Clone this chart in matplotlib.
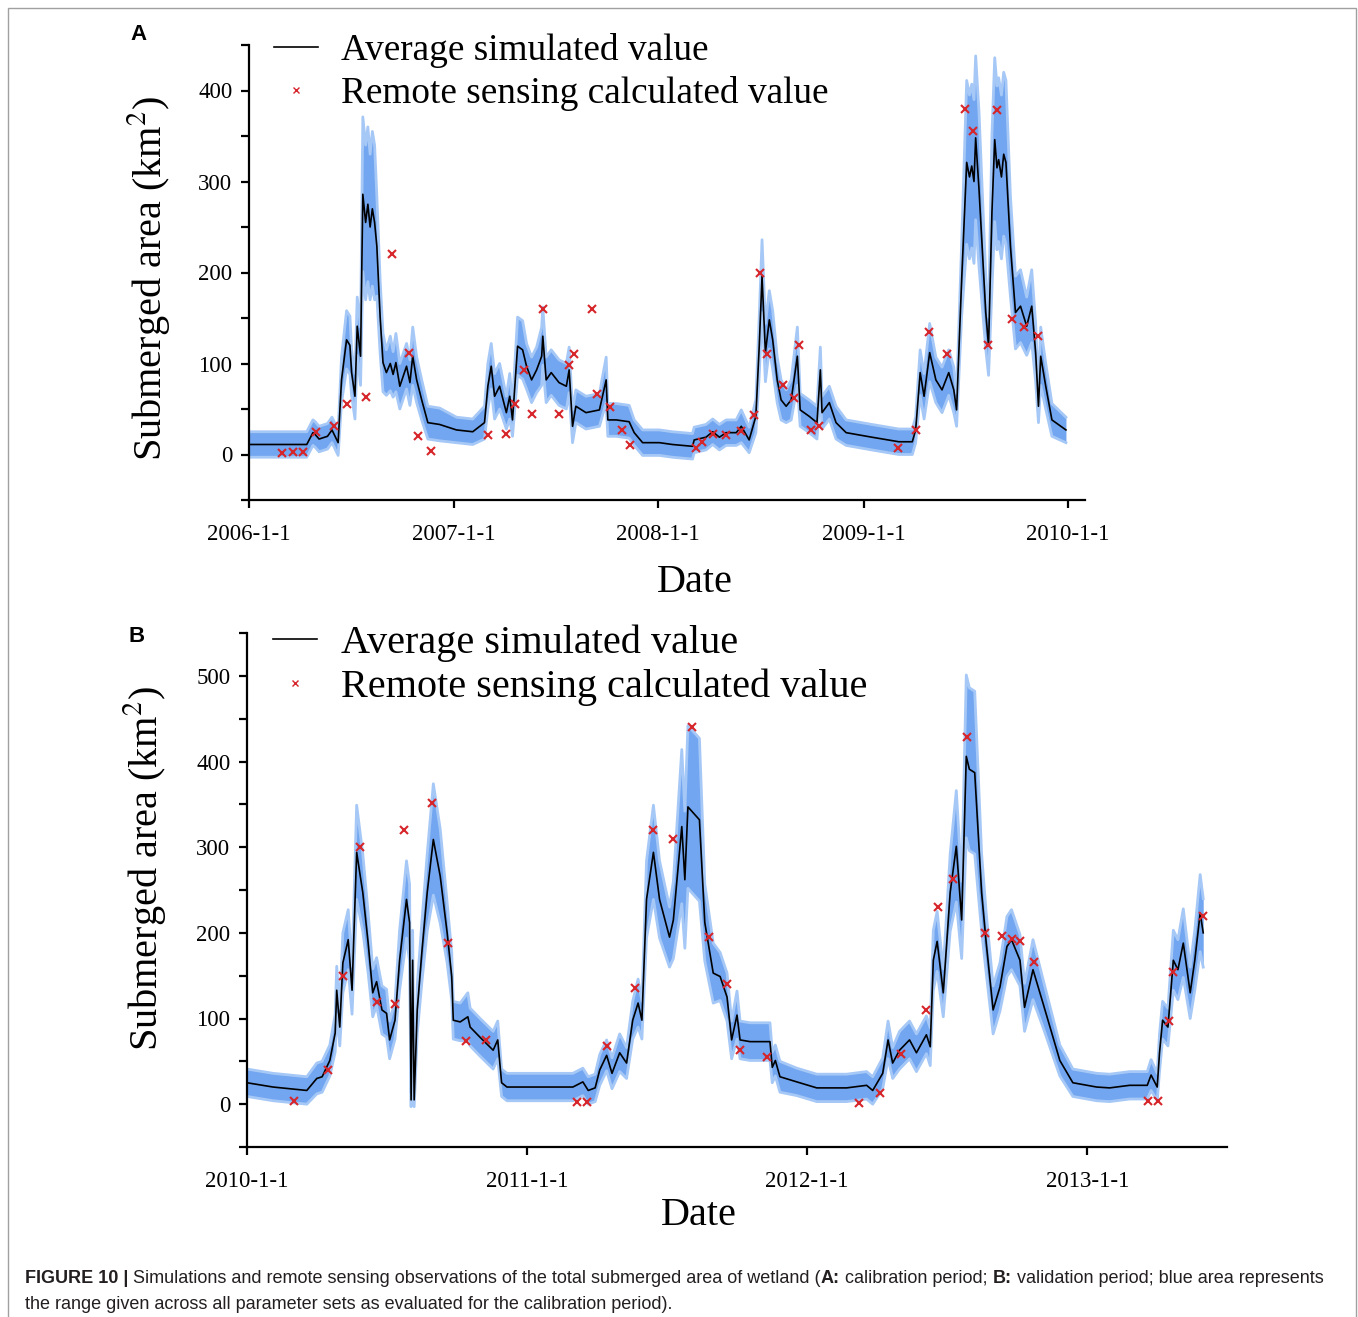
import pandas as pd
import matplotlib.pyplot as plt
from matplotlib.lines import Line2D
from matplotlib.patches import Rectangle
from matplotlib.ticker import MultipleLocator

plt.rcParams['font.family'] = 'Liberation Serif'
plt.rcParams['mathtext.fontset'] = 'stix'

# Panel A (calibration), days counted from 2006-1-1
a_day = [0, 60, 103, 114, 118, 125, 140, 148, 155, 159,
         165, 174, 180, 183, 189, 193, 199, 203, 208, 212,
         216, 220, 224, 228, 234, 239, 245, 252, 257, 262,
         269, 281, 287, 292, 299, 308, 319, 340, 370, 399,
         420, 426, 432, 438, 447, 459, 465, 470, 479, 488,
         495, 504, 513, 522, 524, 530, 539, 553, 566, 571,
         577, 583, 601, 625, 637, 640, 655, 678, 687, 702,
         732, 755, 791, 794, 815, 827, 839, 851, 869, 878,
         892, 904, 910, 915, 921, 928, 934, 942, 949, 958,
         967, 978, 983, 999, 1013, 1019, 1022, 1035, 1047, 1065,
         1111, 1159, 1183, 1189, 1197, 1204, 1214, 1225, 1236, 1248,
         1257, 1262, 1271, 1280, 1285, 1289, 1293, 1296, 1302, 1314,
         1319, 1325, 1330, 1334, 1337, 1342, 1346, 1350, 1358, 1367,
         1376, 1387, 1396, 1403, 1408, 1412, 1421, 1432, 1457]
a_mean = [11, 11, 11, 24, 22, 17, 20, 27, 18, 13,
          82, 126, 120, 90, 64, 141, 108, 286, 255, 275,
          250, 270, 255, 229, 150, 101, 90, 100, 88, 101,
          75, 97, 79, 108, 82, 60, 35, 33, 27, 25,
          35, 75, 97, 64, 75, 46, 64, 38, 119, 115,
          97, 82, 93, 108, 130, 82, 90, 79, 75, 93,
          31, 53, 46, 49, 82, 38, 38, 36, 24, 13,
          13, 11, 9, 16, 19, 25, 19, 24, 24, 31,
          16, 42, 119, 196, 112, 148, 126, 82, 60, 53,
          60, 108, 49, 42, 35, 93, 46, 57, 35, 24,
          19, 14, 14, 27, 90, 64, 112, 82, 71, 90,
          71, 49, 192, 321, 305, 317, 300, 348, 291, 156,
          119, 266, 346, 315, 324, 305, 330, 321, 229, 156,
          163, 141, 163, 112, 53, 108, 75, 38, 27]
a_spread = [14, 14, 14, 14, 14, 14, 14, 14, 14, 14,
            25, 32, 32, 25, 25, 32, 32, 85, 85, 85,
            80, 85, 85, 55, 40, 32, 25, 30, 25, 32,
            25, 25, 25, 32, 25, 22, 18, 18, 14, 14,
            18, 25, 25, 25, 25, 18, 25, 18, 32, 32,
            25, 25, 25, 32, 32, 25, 25, 25, 25, 25,
            18, 18, 18, 18, 25, 18, 18, 18, 14, 14,
            14, 14, 14, 14, 14, 14, 14, 14, 14, 18,
            14, 18, 32, 40, 32, 32, 32, 25, 22, 18,
            22, 32, 18, 18, 18, 25, 18, 18, 18, 14,
            14, 14, 14, 14, 25, 25, 32, 25, 25, 25,
            25, 18, 40, 90, 90, 90, 90, 90, 85, 40,
            32, 85, 90, 90, 90, 90, 90, 90, 55, 40,
            40, 32, 40, 32, 18, 32, 25, 18, 14]
a_obs_day = [59, 79, 96, 119, 151, 174, 208, 255, 285, 301,
             324, 426, 459, 475, 491, 504, 525, 552, 571, 580,
             611, 621, 643, 666, 680, 798, 808, 828, 851, 878,
             901, 912, 924, 953, 972, 981, 1002, 1017, 1157, 1189,
             1212, 1245, 1277, 1291, 1318, 1334, 1361, 1382, 1407]
a_obs_val = [2, 3, 3, 25, 31, 55, 63, 220, 112, 20,
             4, 21, 23, 56, 93, 45, 160, 45, 98, 110,
             160, 66, 52, 27, 10, 7, 14, 23, 21, 26,
             43, 200, 110, 76, 62, 120, 27, 31, 7, 27,
             135, 110, 380, 356, 120, 379, 149, 140, 130]
a_years = ['2006-1-1', '2007-1-1', '2008-1-1', '2009-1-1', '2010-1-1']

# Panel B (validation), days counted from 2010-1-1
b_day = [0, 34, 78, 91, 98, 108, 115, 117, 121, 125,
         132, 137, 143, 151, 158, 164, 169, 176, 182, 186,
         193, 199, 208, 212, 214, 216, 218, 222, 228, 235,
         243, 252, 261, 267, 269, 278, 288, 291, 304, 321,
         327, 332, 339, 382, 425, 438, 445, 454, 460, 469,
         476, 486, 495, 503, 510, 515, 521, 530, 538, 551,
         556, 567, 571, 575, 590, 597, 608, 617, 626, 632,
         639, 643, 656, 682, 685, 689, 695, 717, 743, 782,
         808, 816, 829, 836, 842, 851, 864, 873, 886, 891,
         895, 900, 908, 917, 925, 932, 938, 942, 949, 958,
         964, 973, 982, 991, 997, 1008, 1014, 1025, 1038, 1060,
         1077, 1108, 1125, 1151, 1174, 1179, 1187, 1190, 1194, 1201,
         1208, 1214, 1221, 1230, 1236, 1243, 1247]
b_mean = [25, 20, 16, 30, 32, 51, 83, 133, 90, 165,
          192, 133, 294, 247, 188, 130, 143, 110, 106, 75,
          98, 168, 239, 212, 5, 168, 5, 110, 177, 247,
          309, 266, 200, 149, 98, 96, 102, 90, 78, 63,
          75, 25, 20, 20, 20, 26, 16, 19, 40, 57,
          36, 60, 48, 98, 118, 98, 239, 294, 239, 195,
          215, 324, 262, 347, 332, 212, 153, 149, 125, 75,
          104, 75, 73, 73, 43, 51, 32, 26, 19, 19,
          22, 16, 36, 75, 48, 63, 75, 60, 81, 67,
          168, 190, 130, 247, 301, 215, 406, 391, 387, 247,
          188, 110, 137, 184, 192, 168, 113, 157, 118, 51,
          25, 20, 19, 22, 22, 34, 20, 60, 98, 90,
          168, 157, 188, 130, 168, 223, 200]
b_spread = [16, 16, 16, 18, 18, 18, 22, 28, 22, 35,
            35, 28, 55, 45, 35, 28, 28, 28, 28, 22,
            22, 35, 45, 45, 8, 35, 8, 28, 35, 45,
            65, 55, 35, 28, 22, 22, 28, 22, 22, 22,
            22, 16, 16, 16, 16, 16, 16, 16, 18, 18,
            18, 22, 18, 22, 28, 22, 45, 55, 45, 35,
            45, 90, 80, 95, 95, 45, 35, 28, 28, 22,
            28, 22, 22, 22, 18, 18, 18, 16, 16, 16,
            16, 16, 18, 22, 18, 22, 22, 22, 22, 22,
            35, 35, 28, 45, 65, 45, 95, 95, 95, 45,
            35, 28, 28, 35, 35, 30, 28, 35, 28, 18,
            16, 16, 16, 16, 16, 18, 16, 22, 22, 22,
            35, 35, 40, 30, 35, 45, 40]
b_obs_day = [61, 105, 125, 147, 169, 193, 205, 241, 262, 285,
             312, 430, 443, 470, 506, 530, 556, 580, 603, 626,
             643, 678, 798, 826, 853, 886, 901, 921, 939, 963,
             984, 997, 1008, 1026, 1175, 1188, 1202, 1208, 1247]
b_obs_val = [4, 40, 150, 300, 119, 117, 320, 351, 188, 74,
             75, 2, 2, 68, 136, 320, 310, 440, 195, 140,
             63, 55, 1, 13, 58, 110, 230, 263, 429, 200,
             196, 193, 191, 166, 4, 4, 97, 154, 220]
b_years = ['2010-1-1', '2011-1-1', '2012-1-1', '2013-1-1']

band_color = '#72a6f0'
edge_color = '#a6c8f6'
obs_color = '#d7262b'


def to_dates(start, days):
    return pd.Timestamp(start) + pd.to_timedelta(days, unit='D')


def draw_panel(ax, start, day, mean, spread, obs_day, obs_val, years, xmax, ymax,
               leg_size, leg_anchor, leg_space, leg_handle):
    t = to_dates(start, day)
    lo = [m - s for m, s in zip(mean, spread)]
    hi = [m + s for m, s in zip(mean, spread)]
    ax.fill_between(t, lo, hi, color=band_color, lw=0, zorder=1)
    ax.plot(t, lo, color=edge_color, lw=2, zorder=1)
    ax.plot(t, hi, color=edge_color, lw=2, zorder=1)
    ax.plot(t, mean, color='black', lw=1.2, zorder=3)
    ax.plot(to_dates(start, obs_day), obs_val, ls='none', marker='x',
            color=obs_color, ms=5.5, mew=1.5, zorder=4)

    ax.set_xlim(pd.Timestamp(start), pd.Timestamp(xmax))
    ticks = [pd.Timestamp(y) for y in years]
    ax.set_xticks(ticks, years)
    ax.yaxis.set_major_locator(MultipleLocator(100))
    ax.yaxis.set_minor_locator(MultipleLocator(50))
    ax.set_yticks(range(0, ymax, 100))
    ax.set_ylim(-50, ymax - 1)
    for s in ['top', 'right']:
        ax.spines[s].set_visible(False)
    for s in ['left', 'bottom']:
        ax.spines[s].set_linewidth(1.6)
    ax.tick_params(which='both', direction='out', length=6, width=1.6, labelsize=16.5)
    ax.tick_params(axis='x', pad=11)
    ax.tick_params(axis='y', pad=6)
    ax.tick_params(axis='x', which='minor', length=0)

    handles = [Line2D([], [], color='black', lw=1.2),
               Line2D([], [], ls='none', marker='x', color=obs_color, ms=4, mew=1)]
    ax.legend(handles, ['Average simulated value', 'Remote sensing calculated value'],
              loc='upper left', bbox_to_anchor=leg_anchor, frameon=False,
              fontsize=leg_size, handlelength=leg_handle, handletextpad=0.6,
              labelspacing=leg_space, borderpad=0, borderaxespad=0)


fig = plt.figure(figsize=(13.58, 13.17), dpi=100)

ax_a = fig.add_axes([249 / 1358, 1 - 500 / 1317, 836 / 1358, 455 / 1317])
draw_panel(ax_a, '2006-01-01', a_day, a_mean, a_spread, a_obs_day, a_obs_val,
           a_years, '2010-01-31', 451, 26.8, (0.03, 1.027), 0.22, 1.19)
ax_a.set_ylabel('Submerged area (km$^2$)', fontsize=29)
ax_a.yaxis.set_label_coords(-0.092, 0.487)
ax_a.set_xlabel('Date', fontsize=29)
ax_a.xaxis.set_label_coords(0.533, -0.14)

ax_b = fig.add_axes([247 / 1358, 1 - 1147 / 1317, 980 / 1358, 514 / 1317])
draw_panel(ax_b, '2010-01-01', b_day, b_mean, b_spread, b_obs_day, b_obs_val,
           b_years, '2013-07-02', 551, 29, (0.027, 1.0167), 0.16, 1.08)
ax_b.set_ylabel('Submerged area (km$^2$)', fontsize=29)
ax_b.yaxis.set_label_coords(-0.081, 0.543)
ax_b.set_xlabel('Date', fontsize=29)
ax_b.xaxis.set_label_coords(0.461, -0.097)

fig.text(130 / 1358, 1 - 35 / 1317, 'A', family='Liberation Sans', weight='bold',
         fontsize=16, va='center')
fig.text(128 / 1358, 1 - 637 / 1317, 'B', family='Liberation Sans', weight='bold',
         fontsize=16, va='center')

# frame around figure
fig.add_artist(Rectangle((8 / 1358, -0.01), 1348 / 1358, 1 - 8 / 1317 + 0.01,
                         transform=fig.transFigure, fill=False, ec='#a0a0a0', lw=1))

# caption, mixing bold and regular pieces
cap = fig.add_axes([0, 0, 1, 1])
cap.axis('off')
cap.set_xlim(0, 1)
cap.set_ylim(0, 1)


def caption_line(x, y, parts):
    prev = None
    for txt, bold in parts:
        kw = dict(family='Liberation Sans', fontsize=13, color='#231f20',
                  weight='bold' if bold else 'normal', va='bottom', ha='left')
        if prev is None:
            prev = cap.text(x, y, txt, **kw)
        else:
            prev = cap.annotate(txt, xy=(1, 0), xycoords=prev, **kw)


caption_line(25 / 1358, 1 - 1287 / 1317,
             [('FIGURE 10 |', True),
              (' Simulations and remote sensing observations of the total submerged area of wetland (', False),
              ('A:', True), (' calibration period; ', False), ('B:', True),
              (' validation period; blue area represents', False)])
caption_line(25 / 1358, 1 - 1313 / 1317,
             [('the range given across all parameter sets as evaluated for the calibration period).', False)])

fig.savefig('out.png', dpi=100)
